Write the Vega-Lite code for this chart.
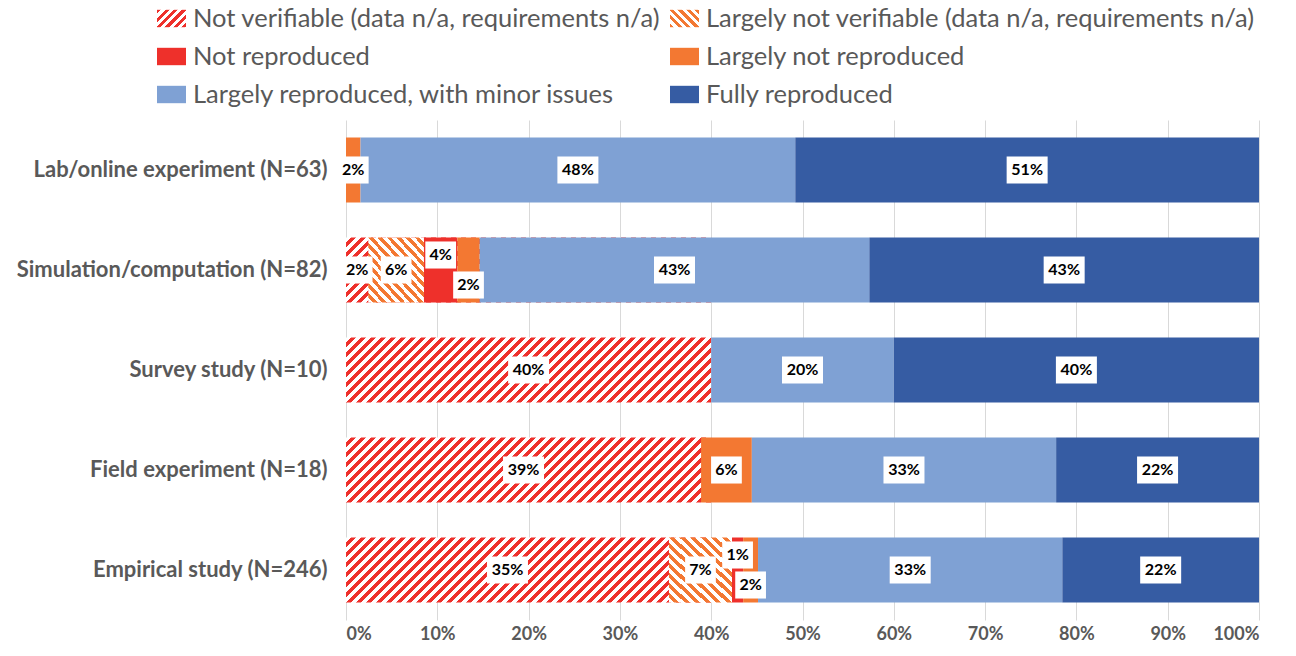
{
  "$schema": "https://vega.github.io/schema/vega-lite/v6.json",
  "width": 913,
  "height": 500,
  "autosize": {"type": "none"},
  "padding": {"left": 346, "top": 120, "right": 37, "bottom": 36},
  "background": "white",
  "config": {
    "view": {"stroke": null},
    "font": "Lato",
    "numberFormat": ".0%",
    "axisX": {"grid": true, "gridColor": "#D9D9D9", "gridWidth": 1, "domain": false, "ticks": false, "tickCount": 10, "labelFont": "Lato", "labelFontSize": 18, "labelFontWeight": "bold", "labelColor": "#595959", "labelPadding": 5},
    "axisY": {"grid": false, "domain": false, "ticks": false, "labelFont": "Lato", "labelFontSize": 22, "labelFontWeight": "bold", "labelColor": "#595959", "labelPadding": 19, "labelLimit": 400}
  },
  "data": {"values": [
    {"category": "Lab/online experiment (N=63)", "outcome": "Largely not reproduced", "share": 0.0159},
    {"category": "Lab/online experiment (N=63)", "outcome": "Largely reproduced, with minor issues", "share": 0.4762},
    {"category": "Lab/online experiment (N=63)", "outcome": "Fully reproduced", "share": 0.5079},
    {"category": "Simulation/computation (N=82)", "outcome": "Not verifiable (data n/a, requirements n/a)", "share": 0.0244},
    {"category": "Simulation/computation (N=82)", "outcome": "Largely not verifiable (data n/a, requirements n/a)", "share": 0.061},
    {"category": "Simulation/computation (N=82)", "outcome": "Not reproduced", "share": 0.0366},
    {"category": "Simulation/computation (N=82)", "outcome": "Largely not reproduced", "share": 0.0244},
    {"category": "Simulation/computation (N=82)", "outcome": "Largely reproduced, with minor issues", "share": 0.4268},
    {"category": "Simulation/computation (N=82)", "outcome": "Fully reproduced", "share": 0.4268},
    {"category": "Survey study (N=10)", "outcome": "Not verifiable (data n/a, requirements n/a)", "share": 0.4},
    {"category": "Survey study (N=10)", "outcome": "Largely reproduced, with minor issues", "share": 0.2},
    {"category": "Survey study (N=10)", "outcome": "Fully reproduced", "share": 0.4},
    {"category": "Field experiment (N=18)", "outcome": "Not verifiable (data n/a, requirements n/a)", "share": 0.3889},
    {"category": "Field experiment (N=18)", "outcome": "Largely not reproduced", "share": 0.0556},
    {"category": "Field experiment (N=18)", "outcome": "Largely reproduced, with minor issues", "share": 0.3333},
    {"category": "Field experiment (N=18)", "outcome": "Fully reproduced", "share": 0.2222},
    {"category": "Empirical study (N=246)", "outcome": "Not verifiable (data n/a, requirements n/a)", "share": 0.3537},
    {"category": "Empirical study (N=246)", "outcome": "Largely not verifiable (data n/a, requirements n/a)", "share": 0.0691},
    {"category": "Empirical study (N=246)", "outcome": "Not reproduced", "share": 0.0122},
    {"category": "Empirical study (N=246)", "outcome": "Largely not reproduced", "share": 0.0163},
    {"category": "Empirical study (N=246)", "outcome": "Largely reproduced, with minor issues", "share": 0.3333},
    {"category": "Empirical study (N=246)", "outcome": "Fully reproduced", "share": 0.2154}
  ]},
  "transform": [{"window": [{"op": "row_number", "as": "rank"}]}],
  "layer": [
    {
      "transform": [
        {"filter": "datum.outcome === 'Not verifiable (data n/a, requirements n/a)'"},
        {"joinaggregate": [{"op": "max", "field": "share", "as": "maxNV"}]}
      ],
      "mark": {"type": "bar", "fill": {"gradient": "linear", "x1": 0, "y1": 0, "x2": 1.3271, "y2": 0.2362, "stops": [
        {"offset": 0, "color": "#fff"}, {"offset": 0.01, "color": "#fff"}, {"offset": 0.01, "color": "#EE302B"}, {"offset": 0.02, "color": "#EE302B"},
        {"offset": 0.02, "color": "#fff"}, {"offset": 0.03, "color": "#fff"}, {"offset": 0.03, "color": "#EE302B"}, {"offset": 0.04, "color": "#EE302B"},
        {"offset": 0.04, "color": "#fff"}, {"offset": 0.05, "color": "#fff"}, {"offset": 0.05, "color": "#EE302B"}, {"offset": 0.06, "color": "#EE302B"},
        {"offset": 0.06, "color": "#fff"}, {"offset": 0.07, "color": "#fff"}, {"offset": 0.07, "color": "#EE302B"}, {"offset": 0.08, "color": "#EE302B"},
        {"offset": 0.08, "color": "#fff"}, {"offset": 0.09, "color": "#fff"}, {"offset": 0.09, "color": "#EE302B"}, {"offset": 0.1, "color": "#EE302B"},
        {"offset": 0.1, "color": "#fff"}, {"offset": 0.11, "color": "#fff"}, {"offset": 0.11, "color": "#EE302B"}, {"offset": 0.12, "color": "#EE302B"},
        {"offset": 0.12, "color": "#fff"}, {"offset": 0.13, "color": "#fff"}, {"offset": 0.13, "color": "#EE302B"}, {"offset": 0.14, "color": "#EE302B"},
        {"offset": 0.14, "color": "#fff"}, {"offset": 0.15, "color": "#fff"}, {"offset": 0.15, "color": "#EE302B"}, {"offset": 0.16, "color": "#EE302B"},
        {"offset": 0.16, "color": "#fff"}, {"offset": 0.17, "color": "#fff"}, {"offset": 0.17, "color": "#EE302B"}, {"offset": 0.18, "color": "#EE302B"},
        {"offset": 0.18, "color": "#fff"}, {"offset": 0.19, "color": "#fff"}, {"offset": 0.19, "color": "#EE302B"}, {"offset": 0.2, "color": "#EE302B"},
        {"offset": 0.2, "color": "#fff"}, {"offset": 0.21, "color": "#fff"}, {"offset": 0.21, "color": "#EE302B"}, {"offset": 0.22, "color": "#EE302B"},
        {"offset": 0.22, "color": "#fff"}, {"offset": 0.23, "color": "#fff"}, {"offset": 0.23, "color": "#EE302B"}, {"offset": 0.24, "color": "#EE302B"},
        {"offset": 0.24, "color": "#fff"}, {"offset": 0.25, "color": "#fff"}, {"offset": 0.25, "color": "#EE302B"}, {"offset": 0.26, "color": "#EE302B"},
        {"offset": 0.26, "color": "#fff"}, {"offset": 0.27, "color": "#fff"}, {"offset": 0.27, "color": "#EE302B"}, {"offset": 0.28, "color": "#EE302B"},
        {"offset": 0.28, "color": "#fff"}, {"offset": 0.29, "color": "#fff"}, {"offset": 0.29, "color": "#EE302B"}, {"offset": 0.3, "color": "#EE302B"},
        {"offset": 0.3, "color": "#fff"}, {"offset": 0.31, "color": "#fff"}, {"offset": 0.31, "color": "#EE302B"}, {"offset": 0.32, "color": "#EE302B"},
        {"offset": 0.32, "color": "#fff"}, {"offset": 0.33, "color": "#fff"}, {"offset": 0.33, "color": "#EE302B"}, {"offset": 0.34, "color": "#EE302B"},
        {"offset": 0.34, "color": "#fff"}, {"offset": 0.35, "color": "#fff"}, {"offset": 0.35, "color": "#EE302B"}, {"offset": 0.36, "color": "#EE302B"},
        {"offset": 0.36, "color": "#fff"}, {"offset": 0.37, "color": "#fff"}, {"offset": 0.37, "color": "#EE302B"}, {"offset": 0.38, "color": "#EE302B"},
        {"offset": 0.38, "color": "#fff"}, {"offset": 0.39, "color": "#fff"}, {"offset": 0.39, "color": "#EE302B"}, {"offset": 0.4, "color": "#EE302B"},
        {"offset": 0.4, "color": "#fff"}, {"offset": 0.41, "color": "#fff"}, {"offset": 0.41, "color": "#EE302B"}, {"offset": 0.42, "color": "#EE302B"},
        {"offset": 0.42, "color": "#fff"}, {"offset": 0.43, "color": "#fff"}, {"offset": 0.43, "color": "#EE302B"}, {"offset": 0.44, "color": "#EE302B"},
        {"offset": 0.44, "color": "#fff"}, {"offset": 0.45, "color": "#fff"}, {"offset": 0.45, "color": "#EE302B"}, {"offset": 0.46, "color": "#EE302B"},
        {"offset": 0.46, "color": "#fff"}, {"offset": 0.47, "color": "#fff"}, {"offset": 0.47, "color": "#EE302B"}, {"offset": 0.48, "color": "#EE302B"},
        {"offset": 0.48, "color": "#fff"}, {"offset": 0.49, "color": "#fff"}, {"offset": 0.49, "color": "#EE302B"}, {"offset": 0.5, "color": "#EE302B"},
        {"offset": 0.5, "color": "#fff"}, {"offset": 0.51, "color": "#fff"}, {"offset": 0.51, "color": "#EE302B"}, {"offset": 0.52, "color": "#EE302B"},
        {"offset": 0.52, "color": "#fff"}, {"offset": 0.53, "color": "#fff"}, {"offset": 0.53, "color": "#EE302B"}, {"offset": 0.54, "color": "#EE302B"},
        {"offset": 0.54, "color": "#fff"}, {"offset": 0.55, "color": "#fff"}, {"offset": 0.55, "color": "#EE302B"}, {"offset": 0.56, "color": "#EE302B"},
        {"offset": 0.56, "color": "#fff"}, {"offset": 0.57, "color": "#fff"}, {"offset": 0.57, "color": "#EE302B"}, {"offset": 0.58, "color": "#EE302B"},
        {"offset": 0.58, "color": "#fff"}, {"offset": 0.59, "color": "#fff"}, {"offset": 0.59, "color": "#EE302B"}, {"offset": 0.6, "color": "#EE302B"},
        {"offset": 0.6, "color": "#fff"}, {"offset": 0.61, "color": "#fff"}, {"offset": 0.61, "color": "#EE302B"}, {"offset": 0.62, "color": "#EE302B"},
        {"offset": 0.62, "color": "#fff"}, {"offset": 0.63, "color": "#fff"}, {"offset": 0.63, "color": "#EE302B"}, {"offset": 0.64, "color": "#EE302B"},
        {"offset": 0.64, "color": "#fff"}, {"offset": 0.65, "color": "#fff"}, {"offset": 0.65, "color": "#EE302B"}, {"offset": 0.66, "color": "#EE302B"},
        {"offset": 0.66, "color": "#fff"}, {"offset": 0.67, "color": "#fff"}, {"offset": 0.67, "color": "#EE302B"}, {"offset": 0.68, "color": "#EE302B"},
        {"offset": 0.68, "color": "#fff"}, {"offset": 0.69, "color": "#fff"}, {"offset": 0.69, "color": "#EE302B"}, {"offset": 0.7, "color": "#EE302B"},
        {"offset": 0.7, "color": "#fff"}, {"offset": 0.71, "color": "#fff"}, {"offset": 0.71, "color": "#EE302B"}, {"offset": 0.72, "color": "#EE302B"},
        {"offset": 0.72, "color": "#fff"}, {"offset": 0.73, "color": "#fff"}, {"offset": 0.73, "color": "#EE302B"}, {"offset": 0.74, "color": "#EE302B"},
        {"offset": 0.74, "color": "#fff"}, {"offset": 0.75, "color": "#fff"}, {"offset": 0.75, "color": "#EE302B"}, {"offset": 0.76, "color": "#EE302B"},
        {"offset": 0.76, "color": "#fff"}, {"offset": 0.77, "color": "#fff"}, {"offset": 0.77, "color": "#EE302B"}, {"offset": 0.78, "color": "#EE302B"},
        {"offset": 0.78, "color": "#fff"}, {"offset": 0.79, "color": "#fff"}, {"offset": 0.79, "color": "#EE302B"}, {"offset": 0.8, "color": "#EE302B"},
        {"offset": 0.8, "color": "#fff"}, {"offset": 0.81, "color": "#fff"}, {"offset": 0.81, "color": "#EE302B"}, {"offset": 0.82, "color": "#EE302B"},
        {"offset": 0.82, "color": "#fff"}, {"offset": 0.83, "color": "#fff"}, {"offset": 0.83, "color": "#EE302B"}, {"offset": 0.84, "color": "#EE302B"},
        {"offset": 0.84, "color": "#fff"}, {"offset": 0.85, "color": "#fff"}, {"offset": 0.85, "color": "#EE302B"}, {"offset": 0.86, "color": "#EE302B"},
        {"offset": 0.86, "color": "#fff"}, {"offset": 0.87, "color": "#fff"}, {"offset": 0.87, "color": "#EE302B"}, {"offset": 0.88, "color": "#EE302B"}
      ]}},
      "encoding": {
        "y": {"field": "category", "type": "nominal", "title": null, "scale": {"domain": ["Lab/online experiment (N=63)", "Simulation/computation (N=82)", "Survey study (N=10)", "Field experiment (N=18)", "Empirical study (N=246)"], "paddingInner": 0.35, "paddingOuter": 0.175}},
        "x": {"field": "maxNV", "type": "quantitative", "stack": null, "title": null, "scale": {"domain": [0, 1], "nice": false}}
      }
    },
    {
      "mark": {"type": "bar"},
      "encoding": {
        "y": {"field": "category", "type": "nominal", "title": null},
        "x": {"field": "share", "type": "quantitative", "stack": "zero", "title": null},
        "order": {"field": "rank", "type": "quantitative"},
        "color": {
          "field": "outcome", "type": "nominal",
          "condition": [
            {"test": "datum.outcome === 'Not verifiable (data n/a, requirements n/a)'", "value": "transparent"},
            {"test": "datum.outcome === 'Largely not verifiable (data n/a, requirements n/a)'", "value": {"gradient": "linear", "x1": 0, "y1": 1, "x2": 0.9585, "y2": -0.0383, "stops": [
              {"offset": 0, "color": "#fff"}, {"offset": 0.04, "color": "#fff"}, {"offset": 0.04, "color": "#F37832"}, {"offset": 0.08, "color": "#F37832"},
              {"offset": 0.08, "color": "#fff"}, {"offset": 0.12, "color": "#fff"}, {"offset": 0.12, "color": "#F37832"}, {"offset": 0.16, "color": "#F37832"},
              {"offset": 0.16, "color": "#fff"}, {"offset": 0.2, "color": "#fff"}, {"offset": 0.2, "color": "#F37832"}, {"offset": 0.24, "color": "#F37832"},
              {"offset": 0.24, "color": "#fff"}, {"offset": 0.28, "color": "#fff"}, {"offset": 0.28, "color": "#F37832"}, {"offset": 0.32, "color": "#F37832"},
              {"offset": 0.32, "color": "#fff"}, {"offset": 0.36, "color": "#fff"}, {"offset": 0.36, "color": "#F37832"}, {"offset": 0.4, "color": "#F37832"},
              {"offset": 0.4, "color": "#fff"}, {"offset": 0.44, "color": "#fff"}, {"offset": 0.44, "color": "#F37832"}, {"offset": 0.48, "color": "#F37832"},
              {"offset": 0.48, "color": "#fff"}, {"offset": 0.52, "color": "#fff"}, {"offset": 0.52, "color": "#F37832"}, {"offset": 0.56, "color": "#F37832"},
              {"offset": 0.56, "color": "#fff"}, {"offset": 0.6, "color": "#fff"}, {"offset": 0.6, "color": "#F37832"}, {"offset": 0.64, "color": "#F37832"},
              {"offset": 0.64, "color": "#fff"}, {"offset": 0.68, "color": "#fff"}, {"offset": 0.68, "color": "#F37832"}, {"offset": 0.72, "color": "#F37832"},
              {"offset": 0.72, "color": "#fff"}, {"offset": 0.76, "color": "#fff"}, {"offset": 0.76, "color": "#F37832"}, {"offset": 0.8, "color": "#F37832"},
              {"offset": 0.8, "color": "#fff"}, {"offset": 0.84, "color": "#fff"}, {"offset": 0.84, "color": "#F37832"}, {"offset": 0.88, "color": "#F37832"},
              {"offset": 0.88, "color": "#fff"}, {"offset": 0.92, "color": "#fff"}, {"offset": 0.92, "color": "#F37832"}, {"offset": 0.96, "color": "#F37832"},
              {"offset": 0.96, "color": "#fff"}, {"offset": 1, "color": "#fff"}
            ]}}
          ],
          "scale": {
            "domain": ["Not verifiable (data n/a, requirements n/a)", "Largely not verifiable (data n/a, requirements n/a)", "Not reproduced", "Largely not reproduced", "Largely reproduced, with minor issues", "Fully reproduced"],
            "range": [
              {"expr": "{gradient: 'linear', x1: 0, y1: 0, x2: 1.1764, y2: 0.7058, stops: [{offset: 0, color: '#EE302B'}, {offset: 0.09, color: '#EE302B'}, {offset: 0.09, color: '#fff'}, {offset: 0.18, color: '#fff'}, {offset: 0.18, color: '#EE302B'}, {offset: 0.27, color: '#EE302B'}, {offset: 0.27, color: '#fff'}, {offset: 0.36, color: '#fff'}, {offset: 0.36, color: '#EE302B'}, {offset: 0.45, color: '#EE302B'}, {offset: 0.45, color: '#fff'}, {offset: 0.54, color: '#fff'}, {offset: 0.54, color: '#EE302B'}, {offset: 0.63, color: '#EE302B'}, {offset: 0.63, color: '#fff'}, {offset: 0.72, color: '#fff'}, {offset: 0.72, color: '#EE302B'}, {offset: 0.81, color: '#EE302B'}, {offset: 0.81, color: '#fff'}, {offset: 0.9, color: '#fff'}, {offset: 0.9, color: '#EE302B'}, {offset: 0.99, color: '#EE302B'}, {offset: 0.99, color: '#fff'}, {offset: 1, color: '#fff'}]}"},
              {"expr": "{gradient: 'linear', x1: 0, y1: 1, x2: 1.1764, y2: 0.2942, stops: [{offset: 0, color: '#F37832'}, {offset: 0.09, color: '#F37832'}, {offset: 0.09, color: '#fff'}, {offset: 0.18, color: '#fff'}, {offset: 0.18, color: '#F37832'}, {offset: 0.27, color: '#F37832'}, {offset: 0.27, color: '#fff'}, {offset: 0.36, color: '#fff'}, {offset: 0.36, color: '#F37832'}, {offset: 0.45, color: '#F37832'}, {offset: 0.45, color: '#fff'}, {offset: 0.54, color: '#fff'}, {offset: 0.54, color: '#F37832'}, {offset: 0.63, color: '#F37832'}, {offset: 0.63, color: '#fff'}, {offset: 0.72, color: '#fff'}, {offset: 0.72, color: '#F37832'}, {offset: 0.81, color: '#F37832'}, {offset: 0.81, color: '#fff'}, {offset: 0.9, color: '#fff'}, {offset: 0.9, color: '#F37832'}, {offset: 0.99, color: '#F37832'}, {offset: 0.99, color: '#fff'}, {offset: 1, color: '#fff'}]}"},
              "#EE302B", "#F37832", "#7FA1D4", "#365CA3"
            ]
          },
          "legend": {
            "title": null,
            "orient": "none",
            "direction": "horizontal",
            "legendX": -189,
            "legendY": -116,
            "columns": 2,
            "columnPadding": 9,
            "rowPadding": 10,
            "padding": 0,
            "labelFont": "Lato",
            "labelFontSize": 25.5,
            "labelColor": "#595959",
            "labelLimit": 700,
            "labelOffset": 7,
            "symbolType": "M-1,-0.6H1V0.6H-1Z",
            "symbolSize": 841,
            "symbolStrokeWidth": 0,
            "symbolOpacity": 1
          }
        }
      }
    },
    {
      "mark": {"type": "point", "filled": true, "color": "white", "strokeWidth": 0, "size": 1681},
      "encoding": {
        "y": {"field": "category", "type": "nominal", "title": null},
        "x": {"field": "share", "type": "quantitative", "stack": "zero", "bandPosition": 0.5, "title": null},
        "order": {"field": "rank", "type": "quantitative"},
        "detail": {"field": "outcome", "type": "nominal"},
        "shape": {"condition": {"test": "datum.share < 0.095", "value": "M-0.75,-0.66H0.75V0.66H-0.75Z"}, "value": "M-1,-0.66H1V0.66H-1Z"},
        "opacity": {"condition": {"test": "datum.outcome !== 'Not reproduced' && !(datum.outcome === 'Largely not reproduced' && (datum.category === 'Simulation/computation (N=82)' || datum.category === 'Empirical study (N=246)'))", "value": 1}, "value": 0}
      }
    },
    {
      "mark": {"type": "text", "font": "Lato", "fontWeight": "bold", "fontSize": 16, "color": "black"},
      "encoding": {
        "y": {"field": "category", "type": "nominal", "title": null},
        "x": {"field": "share", "type": "quantitative", "stack": "zero", "bandPosition": 0.5, "title": null},
        "order": {"field": "rank", "type": "quantitative"},
        "detail": {"field": "outcome", "type": "nominal"},
        "text": {"field": "share", "type": "quantitative", "format": ".0%"},
        "opacity": {"condition": {"test": "datum.outcome !== 'Not reproduced' && !(datum.outcome === 'Largely not reproduced' && (datum.category === 'Simulation/computation (N=82)' || datum.category === 'Empirical study (N=246)'))", "value": 1}, "value": 0}
      }
    },
    {
      "mark": {"type": "point", "filled": true, "color": "white", "strokeWidth": 0, "size": 1681, "yOffset": -15},
      "encoding": {
        "y": {"field": "category", "type": "nominal", "title": null},
        "x": {"field": "share", "type": "quantitative", "stack": "zero", "bandPosition": 0.5, "title": null},
        "order": {"field": "rank", "type": "quantitative"},
        "detail": {"field": "outcome", "type": "nominal"},
        "shape": {"condition": {"test": "datum.share < 0.095", "value": "M-0.75,-0.66H0.75V0.66H-0.75Z"}, "value": "M-1,-0.66H1V0.66H-1Z"},
        "opacity": {"condition": {"test": "datum.outcome === 'Not reproduced'", "value": 1}, "value": 0}
      }
    },
    {
      "mark": {"type": "text", "font": "Lato", "fontWeight": "bold", "fontSize": 16, "color": "black", "yOffset": -15},
      "encoding": {
        "y": {"field": "category", "type": "nominal", "title": null},
        "x": {"field": "share", "type": "quantitative", "stack": "zero", "bandPosition": 0.5, "title": null},
        "order": {"field": "rank", "type": "quantitative"},
        "detail": {"field": "outcome", "type": "nominal"},
        "text": {"field": "share", "type": "quantitative", "format": ".0%"},
        "opacity": {"condition": {"test": "datum.outcome === 'Not reproduced'", "value": 1}, "value": 0}
      }
    },
    {
      "mark": {"type": "point", "filled": true, "color": "white", "strokeWidth": 0, "size": 1681, "yOffset": 15},
      "encoding": {
        "y": {"field": "category", "type": "nominal", "title": null},
        "x": {"field": "share", "type": "quantitative", "stack": "zero", "bandPosition": 0.5, "title": null},
        "order": {"field": "rank", "type": "quantitative"},
        "detail": {"field": "outcome", "type": "nominal"},
        "shape": {"condition": {"test": "datum.share < 0.095", "value": "M-0.75,-0.66H0.75V0.66H-0.75Z"}, "value": "M-1,-0.66H1V0.66H-1Z"},
        "opacity": {"condition": {"test": "datum.outcome === 'Largely not reproduced' && (datum.category === 'Simulation/computation (N=82)' || datum.category === 'Empirical study (N=246)')", "value": 1}, "value": 0}
      }
    },
    {
      "mark": {"type": "text", "font": "Lato", "fontWeight": "bold", "fontSize": 16, "color": "black", "yOffset": 15},
      "encoding": {
        "y": {"field": "category", "type": "nominal", "title": null},
        "x": {"field": "share", "type": "quantitative", "stack": "zero", "bandPosition": 0.5, "title": null},
        "order": {"field": "rank", "type": "quantitative"},
        "detail": {"field": "outcome", "type": "nominal"},
        "text": {"field": "share", "type": "quantitative", "format": ".0%"},
        "opacity": {"condition": {"test": "datum.outcome === 'Largely not reproduced' && (datum.category === 'Simulation/computation (N=82)' || datum.category === 'Empirical study (N=246)')", "value": 1}, "value": 0}
      }
    }
  ]
}
